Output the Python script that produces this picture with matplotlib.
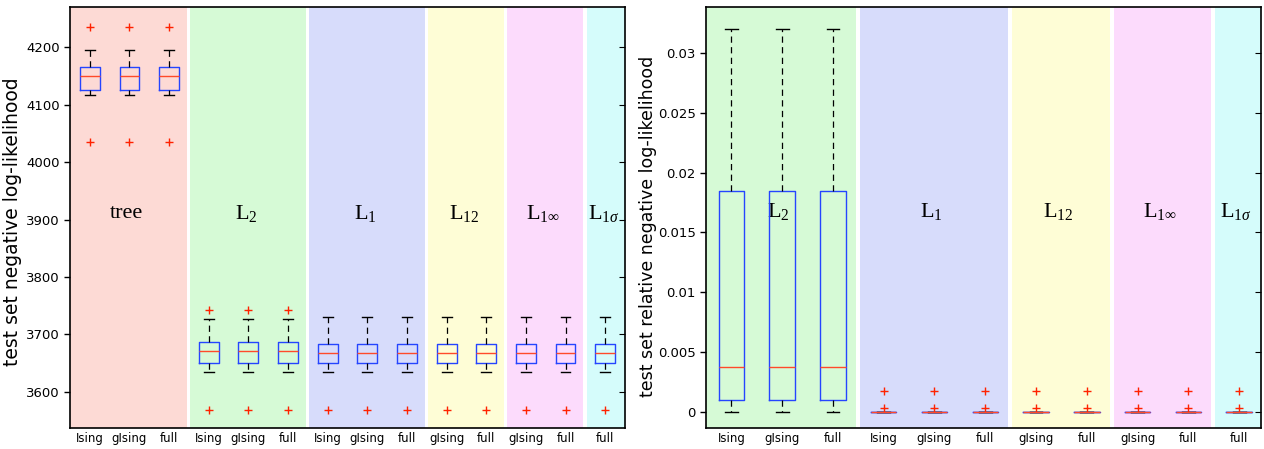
import matplotlib
matplotlib.use("Agg")
import matplotlib.pyplot as plt
from matplotlib.ticker import FuncFormatter

# ---------------- data ----------------
groups_left = ["tree", "L2", "L1", "L12", "L1inf", "L1sigma"]
models_left = [["Ising", "gIsing", "full"], ["Ising", "gIsing", "full"],
               ["Ising", "gIsing", "full"], ["gIsing", "full"],
               ["gIsing", "full"], ["full"]]
# per group box statistics (left panel: test set negative log-likelihood)
med_left = [4150, 3671, 3667, 3667, 3667, 3667]
q1_left = [4126, 3650, 3650, 3650, 3650, 3650]
q3_left = [4166, 3687, 3684, 3684, 3684, 3684]
lo_left = [4117, 3634, 3634, 3634, 3634, 3634]
hi_left = [4195, 3727, 3730, 3730, 3730, 3730]
fl_left = [[4035, 4236], [3568, 3743], [3569], [3569], [3569], [3569]]

groups_right = ["L2", "L1", "L12", "L1inf", "L1sigma"]
models_right = [["Ising", "gIsing", "full"], ["Ising", "gIsing", "full"],
                ["gIsing", "full"], ["gIsing", "full"], ["full"]]
med_right = [0.0038, 0.0, 0.0, 0.0, 0.0]
q1_right = [0.0010, 0.0, 0.0, 0.0, 0.0]
q3_right = [0.0185, 0.0, 0.0, 0.0, 0.0]
lo_right = [0.0, 0.0, 0.0, 0.0, 0.0]
hi_right = [0.0320, 0.0, 0.0, 0.0, 0.0]
fl_right = [[], [0.0004, 0.0018], [0.0004, 0.0018], [0.0004, 0.0018], [0.0004, 0.0018]]

yticks_left = [3600, 3700, 3800, 3900, 4000, 4100, 4200]
yticks_right = [0, 0.005, 0.01, 0.015, 0.02, 0.025, 0.03]

group_labels = {
    "tree": "tree",
    "L2": r"$\mathrm{L}_{2}$",
    "L1": r"$\mathrm{L}_{1}$",
    "L12": r"$\mathrm{L}_{12}$",
    "L1inf": r"$\mathrm{L}_{1\infty}$",
    "L1sigma": r"$\mathrm{L}_{1σ}$",
}
group_colors = {
    "tree": "#FDDAD5",
    "L2": "#D6FAD6",
    "L1": "#D7DCFB",
    "L12": "#FEFDD6",
    "L1inf": "#FCDBFC",
    "L1sigma": "#D5FCFB",
}

# ---------------- style ----------------
plt.rcParams["font.family"] = ["DejaVu Sans"]
plt.rcParams["mathtext.fontset"] = "custom"
plt.rcParams["mathtext.rm"] = "Liberation Serif"
plt.rcParams["mathtext.it"] = "Liberation Serif:italic"
plt.rcParams["mathtext.bf"] = "Liberation Serif:bold"

BOX_C = "#2545FF"
MED_C = "#FF4A2A"
FL_C = "#FF2200"

fig = plt.figure(figsize=(12.64, 4.49), dpi=100)
axL = fig.add_axes([70 / 1264, 21 / 449, 555 / 1264, 421 / 449])
axR = fig.add_axes([706 / 1264, 21 / 449, 555 / 1264, 421 / 449])


def draw_panel(ax, groups, models, med, q1, q3, lo, hi, fl, xlim, ylim, label_y):
    stats = []
    labels = []
    spans = []
    pos = 1
    for g, ms, m, a, b, l, h, f in zip(groups, models, med, q1, q3, lo, hi, fl):
        start = pos
        for mod in ms:
            stats.append(dict(med=m, q1=a, q3=b, whislo=l, whishi=h, fliers=f, label=mod))
            labels.append(mod)
            pos += 1
        spans.append((g, start, pos - 1))
    positions = list(range(1, pos))
    ax.set_xlim(*xlim)
    ax.set_ylim(*ylim)
    # background regions
    for i, (g, s, e) in enumerate(spans):
        x0 = xlim[0] if i == 0 else s - 0.47
        x1 = xlim[1] if i == len(spans) - 1 else e + 0.45
        ax.axvspan(x0, x1, facecolor=group_colors[g], edgecolor="none", zorder=0)
        ax.text((x0 + x1) / 2 - 0.05, label_y, group_labels[g], transform=ax.get_xaxis_transform(),
                ha="center", va="center", fontsize=16, family="Liberation Serif", zorder=1)
    ax.bxp(stats, positions=positions, widths=0.5, showfliers=True,
           boxprops=dict(color=BOX_C, linewidth=1.0),
           medianprops=dict(color=MED_C, linewidth=1.0),
           whiskerprops=dict(color="black", linewidth=0.9, linestyle=(0, (5, 3.5))),
           capprops=dict(color="black", linewidth=1.0),
           flierprops=dict(marker="+", markeredgecolor=FL_C, markersize=6, markeredgewidth=1.0,
                           linestyle="none"),
           manage_ticks=False, zorder=3)
    ax.set_xticks(positions)
    ax.set_xticklabels(labels, fontsize=8.5)
    ax.tick_params(axis="x", length=0, pad=3)
    ax.tick_params(axis="y", direction="out", length=4, labelsize=9.5, width=1)
    for sp in ax.spines.values():
        sp.set_linewidth(1.2)
        sp.set_zorder(5)
    sec = ax.secondary_yaxis("right")
    sec.set_yticks(ax.get_yticks())
    sec.tick_params(axis="y", direction="in", length=4, labelright=False)
    sec.spines["right"].set_visible(False)


draw_panel(axL, groups_left, models_left, med_left, q1_left, q3_left, lo_left, hi_left,
           fl_left, (0.5, 14.5), (3537, 4270), 0.51)
axL.set_yticks(yticks_left)
axL.set_ylabel("test set negative log-likelihood", fontsize=13.5)
axL.yaxis.set_label_coords(-0.086, 0.49)

draw_panel(axR, groups_right, models_right, med_right, q1_right, q3_right, lo_right, hi_right,
           fl_right, (0.5, 11.43), (-0.0013, 0.0338), 0.515)
axR.set_yticks(yticks_right)
axR.yaxis.set_major_formatter(FuncFormatter(lambda v, p: "%g" % v))
axR.set_ylabel("test set relative negative log-likelihood", fontsize=12.5)
axR.yaxis.set_label_coords(-0.088, 0.48)

fig.savefig("out.png", dpi=100)
